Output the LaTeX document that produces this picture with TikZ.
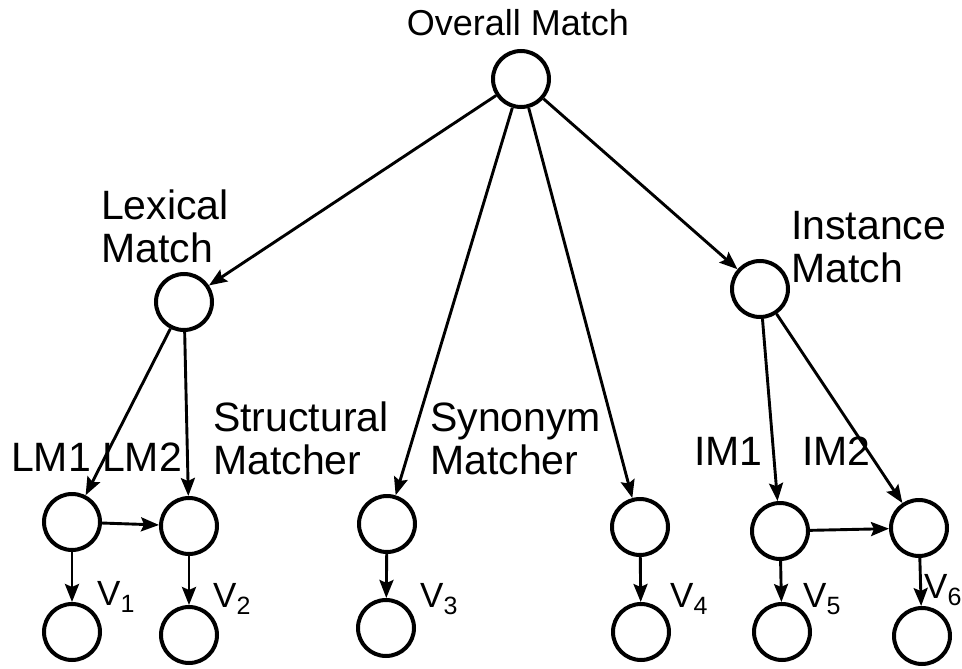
\documentclass[tikz,border=0pt]{standalone}
\usepackage{fontspec}
\setmainfont{Liberation Sans}
\usetikzlibrary{arrows.meta}
\newcommand\vsubscript[1]{\raisebox{-7pt}{\fontsize{25}{25}\selectfont #1}}
\begin{document}
\begin{tikzpicture}[x=1pt,y=-1pt,
  vert/.style={circle,draw,line width=4pt,minimum size=56pt,inner sep=0pt},
  conn/.style={line width=2.9pt,-{Stealth[length=18pt,width=14pt,inset=3pt]}},
  lbl/.style={inner sep=0pt,anchor=base west,align=left,font=\fontsize{41}{43}\selectfont},
  vlbl/.style={inner sep=0pt,anchor=base west,font=\fontsize{35}{35}\selectfont}]
\useasboundingbox (0,0) rectangle (962,669);

% circles
\node[vert] (O) at (521,79) {};
\node[vert] (Lex) at (184,302) {};
\node[vert] (Inst) at (760,289) {};
\node[vert] (LM1) at (72,522) {};
\node[vert] (LM2) at (189,526) {};
\node[vert] (Str) at (387,524) {};
\node[vert] (Syn) at (640,527) {};
\node[vert] (IM1) at (780,531) {};
\node[vert] (IM2) at (919,528) {};
\node[vert] (V1c) at (72,632) {};
\node[vert] (V2c) at (189,635) {};
\node[vert] (V3c) at (386,628) {};
\node[vert] (V4c) at (641,632) {};
\node[vert] (V5c) at (782,632) {};
\node[vert] (V6c) at (922,636) {};

% labels (base anchor = baseline of the last line)
\node[inner sep=0pt,anchor=base,font=\fontsize{36}{38}\selectfont] (tO) at (518,36) {Overall Match};
\node[lbl] (tLex) at (101,262) {Lexical\\Match};
\node[lbl] (tInst) at (791,282) {Instance\\Match};
\node[lbl] (tStr) at (213,474) {Structural\\Matcher};
\node[lbl] (tSyn) at (430,474) {Synonym\\Matcher};
\node[lbl] (tLM1) at (11,471) {LM1};
\node[lbl] (tLM2) at (102,471) {LM2};
\node[lbl] (tIM1) at (694,465) {IM1};
\node[lbl] (tIM2) at (802,465) {IM2};
\node[vlbl] (tV1) at (97,605) {V\vsubscript{1}};
\node[vlbl] (tV2) at (213,607) {V\vsubscript{2}};
\node[vlbl] (tV3) at (420,607) {V\vsubscript{3}};
\node[vlbl] (tV4) at (670,607) {V\vsubscript{4}};
\node[vlbl] (tV5) at (803,607) {V\vsubscript{5}};
\node[vlbl] (tV6) at (924,598) {V\vsubscript{6}};

% connectors
\draw[conn] (O) -- (Lex);
\draw[conn] (O) -- (Str);
\draw[conn] (O) -- (Syn);
\draw[conn] (O) -- (Inst);
\draw[conn] (Lex) -- (LM1);
\draw[conn] (Lex) -- (LM2);
\draw[conn] (Inst) -- (IM1);
\draw[conn] (Inst) -- (IM2);
\draw[conn] (LM1) -- (LM2);
\draw[conn] (IM1) -- (IM2);
\draw[conn] (LM1) -- (V1c);
\draw[conn] (LM2) -- (V2c);
\draw[conn] (Str) -- (V3c);
\draw[conn] (Syn) -- (V4c);
\draw[conn] (IM1) -- (V5c);
\draw[conn] (IM2) -- (V6c);
\end{tikzpicture}
\end{document}
